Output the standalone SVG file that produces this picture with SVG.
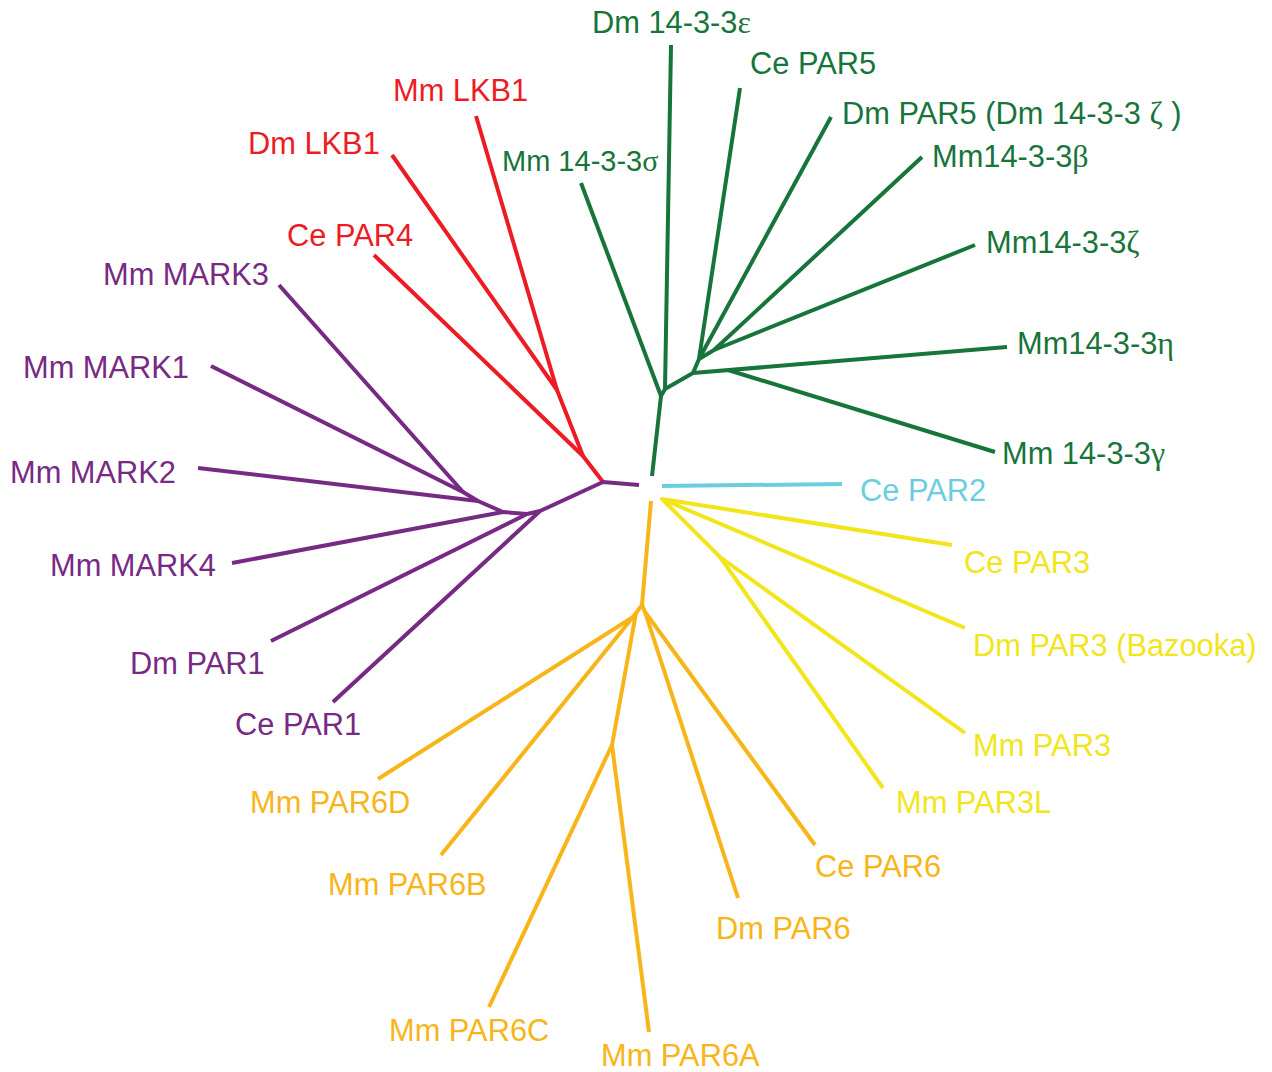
<svg xmlns="http://www.w3.org/2000/svg" width="1272" height="1072" viewBox="0 0 1272 1072">
<style>
  .br { fill: none; stroke-width: 4; stroke-linecap: butt; stroke-linejoin: round; }
  .g { stroke: #17743b; } .r { stroke: #ed1c24; } .p { stroke: #772a83; }
  .c { stroke: #6dcde0; } .y { stroke: #f2e51b; } .o { stroke: #f7b51a; }
  text { font-family: "Liberation Sans", Arial, sans-serif; font-size: 30.8px; }
  .tg { fill: #17743b; } .tr { fill: #ed1c24; } .tp { fill: #772a83; }
  .tc { fill: #6dcde0; } .ty { fill: #f2e51b; } .to { fill: #f7b51a; }
  .gk { font-family: "Liberation Serif", "DejaVu Serif", serif; font-size: 32px; }
</style>
<rect width="1272" height="1072" fill="#ffffff"/>
<g id="connectors">
  <!-- green 14-3-3 clade -->
  <polyline class="br g" points="652,476 661,396 581,183"/>
  <polyline class="br g" points="661,396 665,389 671,45"/>
  <polyline class="br g" points="665,389 693,373 1007,347"/>
  <polyline class="br g" points="728,370 995,452"/>
  <polyline class="br g" points="693,373 699,359 740,88"/>
  <polyline class="br g" points="699,359 831,117"/>
  <polyline class="br g" points="699,359 714,350 922,157"/>
  <polyline class="br g" points="714,350 975,245"/>
  <!-- red -->
  <polyline class="br r" points="603,482 583,456 374,255"/>
  <polyline class="br r" points="583,456 557,390 476,116"/>
  <polyline class="br r" points="557,390 392,155"/>
  <!-- purple -->
  <polyline class="br p" points="639,485 603,482 540,511 333,702"/>
  <polyline class="br p" points="540,511 527,514 271,641"/>
  <polyline class="br p" points="527,514 503,512 232,563"/>
  <polyline class="br p" points="503,512 478,501 198,468"/>
  <polyline class="br p" points="478,501 463,492 211,366"/>
  <polyline class="br p" points="463,492 279,285"/>
  <!-- cyan -->
  <line class="br c" x1="662" y1="486" x2="842" y2="484"/>
  <!-- yellow -->
  <polyline class="br y" points="952,545 662,499 965,628"/>
  <polyline class="br y" points="662,499 720,557 883,788"/>
  <polyline class="br y" points="720,557 965,733"/>
  <!-- orange -->
  <polyline class="br o" points="651,501 642,605 633,617 378,779"/>
  <polyline class="br o" points="633,617 441,855"/>
  <polyline class="br o" points="636,613 612,745 489,1007"/>
  <polyline class="br o" points="612,745 649,1032"/>
  <polyline class="br o" points="642,605 645,612 815,845"/>
  <polyline class="br o" points="645,612 738,898"/>
</g>
<g id="n-dm1433e"><text class="tg" x="592" y="33">Dm 14-3-3<tspan class="gk">ε</tspan></text></g>
<g id="n-cepar5"><text class="tg" x="750" y="74">Ce PAR5</text></g>
<g id="n-dmpar5"><text class="tg" x="842" y="124">Dm PAR5 (Dm 14-3-3 <tspan class="gk">ζ</tspan> )</text></g>
<g id="n-mm1433b"><text class="tg" x="932" y="167">Mm14-3-3<tspan class="gk">β</tspan></text></g>
<g id="n-mm1433s"><text class="tg" x="502" y="171" style="font-size:29px">Mm 14-3-3<tspan class="gk" style="font-size:30px">σ</tspan></text></g>
<g id="n-mm1433z"><text class="tg" x="986" y="253">Mm14-3-3<tspan class="gk">ζ</tspan></text></g>
<g id="n-mm1433h"><text class="tg" x="1017" y="354">Mm14-3-3<tspan class="gk">η</tspan></text></g>
<g id="n-mm1433g"><text class="tg" x="1002" y="464">Mm 14-3-3<tspan class="gk">γ</tspan></text></g>
<g id="n-mmlkb1"><text class="tr" x="393" y="101">Mm LKB1</text></g>
<g id="n-dmlkb1"><text class="tr" x="248" y="154">Dm LKB1</text></g>
<g id="n-cepar4"><text class="tr" x="287" y="246">Ce PAR4</text></g>
<g id="n-mark3"><text class="tp" x="103" y="285">Mm MARK3</text></g>
<g id="n-mark1"><text class="tp" x="23" y="378">Mm MARK1</text></g>
<g id="n-mark2"><text class="tp" x="10" y="483">Mm MARK2</text></g>
<g id="n-mark4"><text class="tp" x="50" y="576">Mm MARK4</text></g>
<g id="n-dmpar1"><text class="tp" x="130" y="674">Dm PAR1</text></g>
<g id="n-cepar1"><text class="tp" x="235" y="735">Ce PAR1</text></g>
<g id="n-cepar2"><text class="tc" x="860" y="501">Ce PAR2</text></g>
<g id="n-cepar3"><text class="ty" x="964" y="573">Ce PAR3</text></g>
<g id="n-dmpar3"><text class="ty" x="973" y="656">Dm PAR3 (Bazooka)</text></g>
<g id="n-mmpar3"><text class="ty" x="973" y="756">Mm PAR3</text></g>
<g id="n-mmpar3l"><text class="ty" x="896" y="813">Mm PAR3L</text></g>
<g id="n-cepar6"><text class="to" x="815" y="877">Ce PAR6</text></g>
<g id="n-dmpar6"><text class="to" x="716" y="939">Dm PAR6</text></g>
<g id="n-mmpar6a"><text class="to" x="601" y="1066">Mm PAR6A</text></g>
<g id="n-mmpar6c"><text class="to" x="389" y="1041">Mm PAR6C</text></g>
<g id="n-mmpar6b"><text class="to" x="328" y="895">Mm PAR6B</text></g>
<g id="n-mmpar6d"><text class="to" x="250" y="813">Mm PAR6D</text></g>
</svg>
